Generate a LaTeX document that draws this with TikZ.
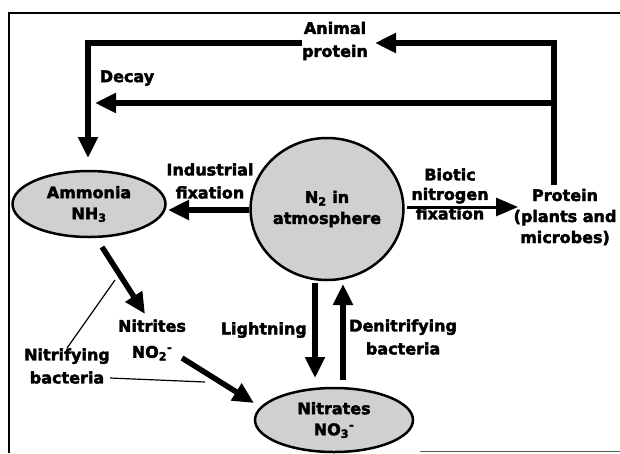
\documentclass[tikz,border=0pt]{standalone}
\usepackage{fontspec}
\setmainfont{DejaVu Sans}[BoldFeatures={FakeBold=2.5}]
\usetikzlibrary{arrows.meta, positioning, calc, shapes.geometric}
\definecolor{BlobGray}{RGB}{208, 208, 208}
\definecolor{FrameGray}{RGB}{90, 90, 90}

\begin{document}
\begin{tikzpicture}[x=1pt, y=-1pt,
    lbl/.style={font=\fontsize{16}{23}\selectfont\bfseries, align=center, inner sep=0pt},
    blob/.style={ellipse, draw, line width=2.5pt, fill=BlobGray, inner sep=0pt, align=center,
      font=\fontsize{16}{21}\selectfont\bfseries},
    flow/.style={line width=5.5pt, -{Triangle[length=21pt,width=19pt]}},
    thinflow/.style={line width=3pt, -{Triangle[length=22pt,width=18pt]}},
    link/.style={line width=1.2pt}]
  \useasboundingbox (0,0) rectangle (620,453);
  % frame
  \draw[line width=1.5pt] (620,13) -- (9,13) -- (9,453);
  \draw[FrameGray, line width=1pt] (420,451) -- (620,451);

  % pools
  \node[blob, minimum width=153pt, minimum height=66pt] (ammonia) at (89,204) {Ammonia\\NH\textsubscript{3}};
  \node[blob, minimum width=134pt, minimum height=142pt] (air) at (327,209) {N\textsubscript{2} in\\atmosphere};
  \node[blob, minimum width=158pt, minimum height=64pt] (nitrates) at (334,420) {Nitrates\\NO\textsubscript{3}\textsuperscript{-}};

  % labels
  \node[lbl] (animal) at (335,41) {Animal\\protein};
  \node[lbl, font=\fontsize{16}{21}\selectfont\bfseries] (protein) at (565,217) {Protein\\(plants and\\microbes)};
  \node[lbl] (decay) at (127,78) {Decay};
  \node[lbl] (industrial) at (210,181) {Industrial\\fixation};
  \node[lbl, font=\fontsize{16}{19.5}\selectfont\bfseries] (biotic) at (450,194) {Biotic\\nitrogen\\fixation};
  \node[lbl, font=\fontsize{16}{26}\selectfont\bfseries] (nitrites) at (152,340) {Nitrites\\NO\textsubscript{2}\textsuperscript{-}};
  \node[lbl] (nitrifying) at (67,366) {Nitrifying\\bacteria};
  \node[lbl, anchor=east] (lightning) at (307,330) {Lightning};
  \node[lbl, anchor=west] (denitrifying) at (349,337) {Denitrifying\\bacteria};

  \coordinate (topR) at (554,43);
  \coordinate (midR) at (554,103);
  \coordinate (midL) at (95,103);
  \coordinate (topL) at (88,43);

  % connectors
  \draw[flow] (554,185) -- (topR) -- (375,43);
  \draw[flow] (midR) -- (midL);
  \draw[flow] (animal.west |- topL) -- (topL) -- (88,158);
  \draw[flow] (air.west |- 0,210) -- (168,210);
  \draw[thinflow] (407,207) -- (518,207);
  \draw[flow] (102,247) -- (145,314);
  \draw[flow] (182,358) -- (254,403);
  \draw[flow] (315,283) -- (315,378);
  \draw[flow] (343,380) -- (343,284);
  \draw[link] (nitrifying.north) -- (115,280);
  \draw[link] (nitrifying.east |- 0,378) -- (205,382);
\end{tikzpicture}
\end{document}
